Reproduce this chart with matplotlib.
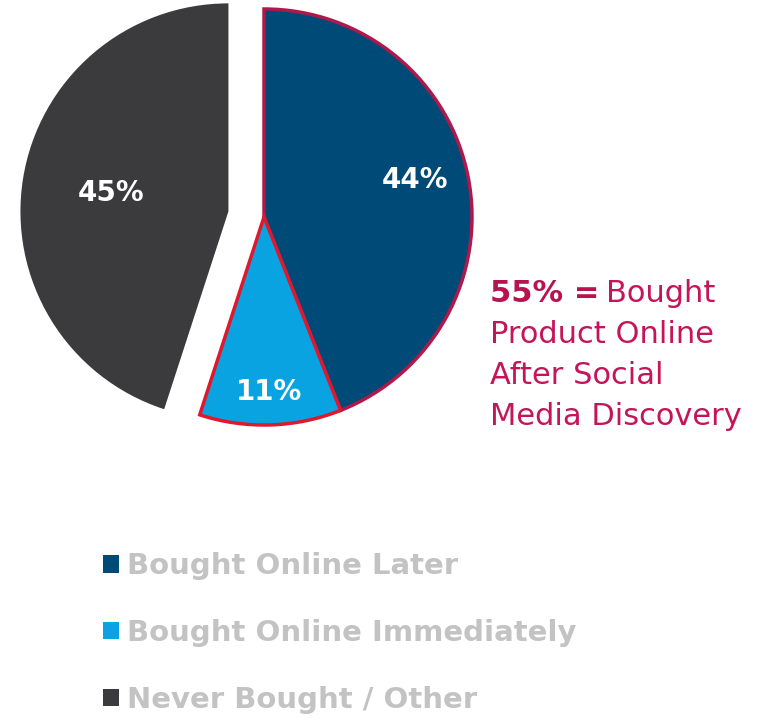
import matplotlib.pyplot as plt
from matplotlib.patches import Patch
import numpy as np

plt.rcParams['font.family'] = ['DejaVu Sans']

# data
categories = ['Bought Online Later', 'Bought Online Immediately', 'Never Bought / Other']
shares = [44, 11, 45]
colors = ['#004a78', '#0aa3e2', '#3b3b3d']
edges = ['#b0184a', '#e0182e', 'none']
explode = [0, 0, 36]
note_lines = ['Product Online', 'After Social', 'Media Discovery']

W, H = 765, 719
fig = plt.figure(figsize=(W / 100, H / 100), dpi=100)
ax = fig.add_axes([0, 0, 1, 1])

radius = 208
cx, cy = 264, H - 217
wedges, _, autotexts = ax.pie(shares, colors=colors, explode=explode, startangle=90,
                              counterclock=False, radius=radius, center=(cx, cy),
                              autopct='%d%%', frame=True,
                              textprops=dict(color='white', fontsize=20, fontweight='bold'))
ax.set_xlim(0, W)
ax.set_ylim(0, H)
ax.set_aspect('equal')
ax.axis('off')

for w, ec in zip(wedges, edges):
    if ec != 'none':
        w.set_edgecolor(ec)
        w.set_linewidth(2.5)
        w.set_zorder(3)

# move the % labels to where they sit in the original
dists = [0.75, 0.84, 0.57]
turns = [3, 0, 0]
for w, t, d, a in zip(wedges, autotexts, dists, turns):
    th = np.deg2rad((w.theta1 + w.theta2) / 2 + a)
    x0, y0 = w.center
    t.set_position((x0 + d * radius * np.cos(th), y0 + d * radius * np.sin(th)))
    t.set_zorder(5)

# side note
note_c = '#c4145a'
fig.canvas.draw()
r = fig.canvas.get_renderer()
t1 = ax.text(490, H - 302, '55% =', color='#b8134f', fontsize=22, fontweight='bold')
bb = t1.get_window_extent(r)
ax.text(bb.x1 + 7, H - 302, 'Bought', color=note_c, fontsize=22)
for i, line in enumerate(note_lines):
    ax.text(490, H - 302 - 41 * (i + 1), line, color=note_c, fontsize=22)

# legend
handles = [Patch(facecolor=c, edgecolor='none') for c in colors]
leg = ax.legend(handles, categories, loc='upper left', bbox_to_anchor=(0.134, 0.232),
                frameon=False, fontsize=21, handlelength=0.55, handleheight=0.55,
                handletextpad=0.3, labelspacing=1.33, borderpad=0, borderaxespad=0)
for t in leg.get_texts():
    t.set_color('#c3c3c3')
    t.set_fontweight('bold')

fig.savefig('out.png', dpi=100)
